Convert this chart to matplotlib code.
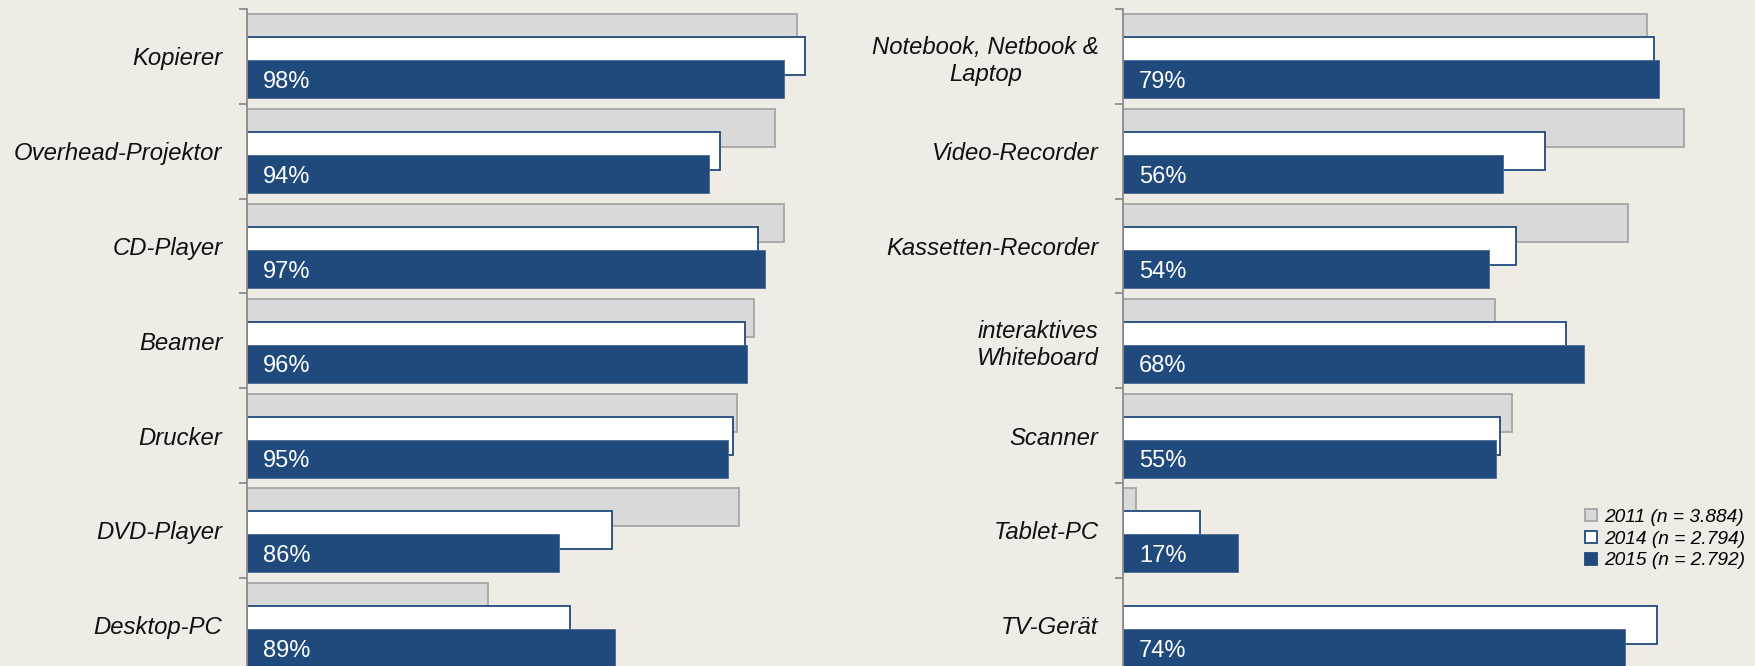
import numpy as np
import matplotlib
matplotlib.use("Agg")
import matplotlib.pyplot as plt
from matplotlib.lines import Line2D

# ---- data ----
left_categories = ['Kopierer', 'Overhead-Projektor', 'CD-Player', 'Beamer',
                   'Drucker', 'DVD-Player', 'Desktop-PC']
left_2011 = [98.7, 97.5, 98.0, 96.4, 95.5, 95.6, 82.2]
left_2014 = [99.1, 94.6, 96.6, 95.9, 95.3, 88.8, 86.6]
left_2015 = [98, 94, 97, 96, 95, 86, 89]

right_categories = ['Notebook, Netbook &\nLaptop', 'Video-Recorder', 'Kassetten-Recorder',
                    'interaktives\nWhiteboard', 'Scanner', 'Tablet-PC', 'TV-Gerät']
right_2011 = [77.2, 82.7, 74.5, 54.8, 57.4, 2.0, np.nan]
right_2014 = [78.3, 62.2, 58.0, 65.3, 55.6, 11.4, 78.8]
right_2015 = [79, 56, 54, 68, 55, 17, 74]

legend_labels = ['2011 (n = 3.884)', '2014 (n = 2.794)', '2015 (n = 2.792)']

# ---- style ----
BG = '#efebe5'
GREY_FILL = '#d9d9d9'
GREY_EDGE = '#a6a6a6'
NAVY = '#204a7c'
SPINE = '#8c8c8c'
FONT = ['Liberation Sans', 'DejaVu Sans']

W, H = 1756, 666
fig = plt.figure(figsize=(W / 100, H / 100), dpi=100, facecolor=BG)

top_px, bot_px = 9, 672.6
ax_bottom = (H - bot_px) / H
ax_height = (bot_px - top_px) / H

# left panel: axis truncated at ~69.3 with 18.73 px per %
lx0, lx1 = 69.32, 100.0
left_ax = fig.add_axes([246.8 / W, ax_bottom, (lx1 - lx0) * 18.73 / W, ax_height])
left_ax.set_xlim(lx0, lx1)
# right panel: from 0 with 6.784 px per %
rx0, rx1 = 0.0, 90.0
right_ax = fig.add_axes([1122.9 / W, ax_bottom, (rx1 - rx0) * 6.784 / W, ax_height])
right_ax.set_xlim(rx0, rx1)

bh = 0.40
off = 0.243


def draw(ax, cats, v11, v14, v15, base):
    n = len(cats)
    y = np.arange(n)
    v11 = np.array(v11, dtype=float)
    m = ~np.isnan(v11)
    ax.barh(y[m] - off, v11[m] - base, left=base, height=bh, color=GREY_FILL,
            edgecolor=GREY_EDGE, linewidth=1.3, zorder=2)
    ax.barh(y, np.array(v14) - base, left=base, height=bh, color='white',
            edgecolor=NAVY, linewidth=1.3, zorder=3)
    ax.barh(y + off, np.array(v15) - base, left=base, height=bh, color=NAVY,
            edgecolor='#4a6890', linewidth=0.6, zorder=4)
    for yi, v in zip(y, v15):
        ax.annotate(f'{v}%', xy=(base, yi + off), xytext=(16, 0),
                    textcoords='offset pixels', ha='left', va='center_baseline',
                    color='white', fontsize=17, family=FONT, zorder=5)
    ax.set_ylim(n - 0.5, -0.5)
    ax.set_yticks(y)
    ax.set_yticklabels(cats, fontsize=17.2, style='italic', family=FONT,
                       color='#111111')
    for lab in ax.get_yticklabels():
        lab.set_multialignment('center')
        lab.set_linespacing(1.22)
    ax.set_yticks(np.arange(-0.5, n + 0.5, 1), minor=True)
    ax.tick_params(axis='y', which='major', length=0, pad=17.5)
    ax.tick_params(axis='y', which='minor', length=6, width=1.3, color=SPINE,
                   direction='out')
    ax.xaxis.set_visible(False)
    for s in ['top', 'right', 'bottom']:
        ax.spines[s].set_visible(False)
    ax.spines['left'].set_color(SPINE)
    ax.spines['left'].set_linewidth(1.3)
    ax.spines['left'].set_zorder(6)
    ax.set_facecolor('none')


draw(left_ax, left_categories, left_2011, left_2014, left_2015, lx0)
draw(right_ax, right_categories, right_2011, right_2014, right_2015, rx0)

handles = [
    Line2D([], [], marker='s', linestyle='none', markersize=8,
           markerfacecolor=GREY_FILL, markeredgecolor=GREY_EDGE, markeredgewidth=1.3),
    Line2D([], [], marker='s', linestyle='none', markersize=8,
           markerfacecolor='white', markeredgecolor=NAVY, markeredgewidth=1.3),
    Line2D([], [], marker='s', linestyle='none', markersize=8,
           markerfacecolor=NAVY, markeredgecolor=NAVY, markeredgewidth=1.3),
]
fig.legend(handles, legend_labels, loc='center right',
           bbox_to_anchor=(1745 / W, 1 - 539 / H), frameon=False,
           prop={'family': FONT, 'style': 'italic', 'size': 13.8},
           handlelength=0.8, handletextpad=0.3, labelspacing=0.22,
           borderpad=0, borderaxespad=0)

fig.savefig('out.png', dpi=100, facecolor=BG)
